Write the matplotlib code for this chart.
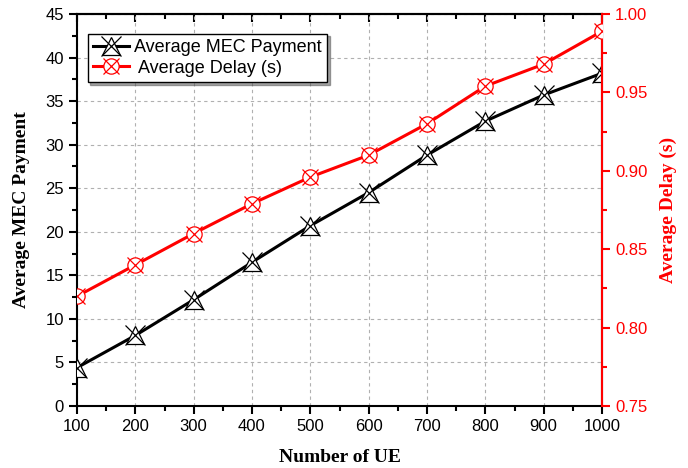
import matplotlib
matplotlib.use("Agg")
import matplotlib.pyplot as plt
from matplotlib.ticker import MultipleLocator
from matplotlib.legend_handler import HandlerTuple

ue = [100, 200, 300, 400, 500, 600, 700, 800, 900, 1000]
payment = [4.4, 8.1, 12.2, 16.5, 20.7, 24.5, 28.8, 32.7, 35.7, 38.2]
delay = [0.820, 0.840, 0.860, 0.879, 0.896, 0.910, 0.930, 0.954, 0.968, 0.989]

tick_font = "Liberation Sans"
label_font = "Liberation Serif"

fig = plt.figure(figsize=(6.88, 4.68), dpi=100)
ax1 = fig.add_axes([77 / 688, 62 / 468, 525 / 688, 392 / 468])
ax2 = ax1.twinx()

# black series: triangle with an X drawn over it
ax1.plot(ue, payment, color="black", linewidth=2.2, zorder=2)
l1a, = ax1.plot(ue, payment, linestyle="none", marker="^", markersize=13,
                markerfacecolor="white", markeredgecolor="black", markeredgewidth=0.9, zorder=3)
l1b, = ax1.plot(ue, payment, linestyle="none", marker="x", markersize=15,
                markeredgecolor="black", markeredgewidth=0.9, zorder=4)

# red series: circle with an X
ax2.plot(ue, delay, color="red", linewidth=2.2, zorder=2)
l2a, = ax2.plot(ue, delay, linestyle="none", marker="o", markersize=11,
                markerfacecolor="white", markeredgecolor="red", markeredgewidth=0.9, zorder=3)
l2b, = ax2.plot(ue, delay, linestyle="none", marker="x", markersize=11,
                markeredgecolor="red", markeredgewidth=0.9, zorder=4)

ax1.set_xlim(100, 1000)
ax1.set_ylim(0, 45)
ax2.set_ylim(0.75, 1.00)
ax1.xaxis.set_major_locator(MultipleLocator(100))
ax1.xaxis.set_minor_locator(MultipleLocator(50))
ax1.yaxis.set_major_locator(MultipleLocator(5))
ax1.yaxis.set_minor_locator(MultipleLocator(2.5))
ax2.yaxis.set_major_locator(MultipleLocator(0.05))
ax2.yaxis.set_minor_locator(MultipleLocator(0.025))

ax1.grid(True, which="major", linestyle=(0, (3, 3)), color="#b0b0b0", linewidth=0.8)
ax1.set_axisbelow(True)

ax1.tick_params(axis="both", which="major", length=6, width=1.5, labelsize=12, direction="out")
ax1.tick_params(axis="both", which="minor", length=3.5, width=1.5, direction="out")
# top axis: inward ticks, no labels
sec = ax1.secondary_xaxis("top")
sec.xaxis.set_major_locator(MultipleLocator(100))
sec.xaxis.set_minor_locator(MultipleLocator(50))
sec.tick_params(which="major", direction="in", length=6, width=1.5, labeltop=False)
sec.tick_params(which="minor", direction="in", length=3.5, width=1.5)
sec.spines["top"].set_linewidth(1.5)
ax2.tick_params(axis="y", which="major", length=6, width=1.5, labelsize=12, colors="red")
ax2.tick_params(axis="y", which="minor", length=3.5, width=1.5, colors="red")

for lab in ax1.get_xticklabels() + ax1.get_yticklabels() + ax2.get_yticklabels():
    lab.set_fontfamily(tick_font)

for sp in ax1.spines.values():
    sp.set_linewidth(1.5)
ax2.spines["right"].set_color("red")
ax2.spines["right"].set_linewidth(1.5)
ax2.spines["left"].set_visible(False)
ax2.spines["top"].set_visible(False)
ax2.spines["bottom"].set_visible(False)

ax1.set_xlabel("Number of UE", fontsize=14, fontweight="bold", fontfamily=label_font, labelpad=11)
ax1.set_ylabel("Average MEC Payment", fontsize=14, fontweight="bold", fontfamily=label_font, labelpad=11)
ax2.set_ylabel("Average Delay (s)", fontsize=14, fontweight="bold", fontfamily=label_font,
               color="red", labelpad=9)

h1, = ax1.plot([], [], color="black", linewidth=2.2)
h2, = ax1.plot([], [], color="red", linewidth=2.2)
leg = ax2.legend([(h1, l1a, l1b), (h2, l2a, l2b)],
                 ["Average MEC Payment", " Average Delay (s)"],
                 handler_map={tuple: HandlerTuple(ndivide=1, pad=0)},
                 loc="upper left", bbox_to_anchor=(0.02, 0.95), fancybox=False, shadow=True,
                 framealpha=1, edgecolor="black", prop={"family": tick_font, "size": 13},
                 handlelength=2.0, handletextpad=0.3, borderpad=0.3, labelspacing=0.2,
                 borderaxespad=0)
leg.get_frame().set_linewidth(1.0)

fig.savefig("out.png", dpi=100)
